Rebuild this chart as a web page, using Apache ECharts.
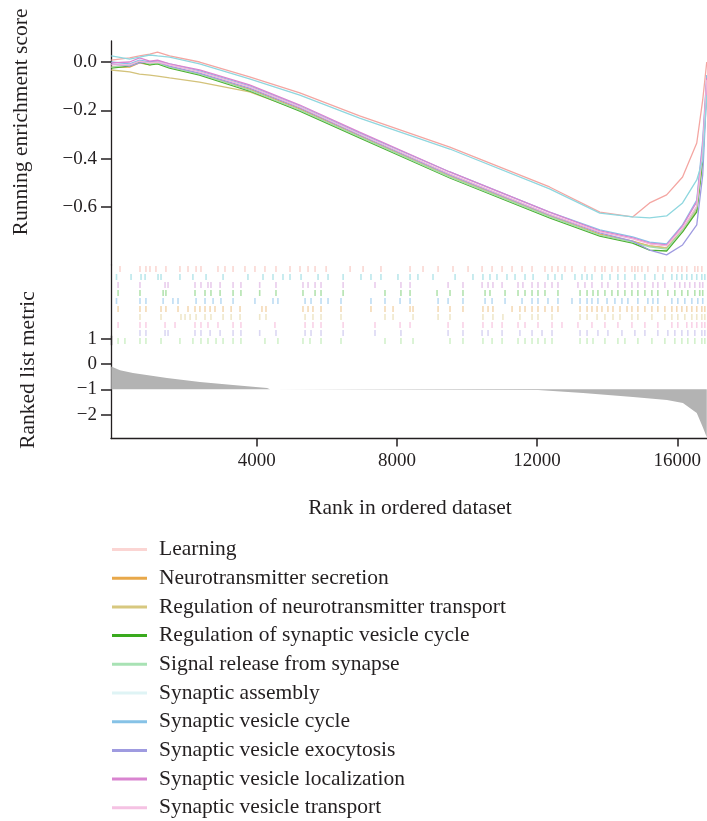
<!DOCTYPE html>
<html>
<head>
<meta charset="utf-8">
<script src="https://cdn.jsdelivr.net/npm/echarts@6/dist/echarts.min.js"></script>
<style>
  html, body { margin: 0; padding: 0; background: #fff; }
  #chart { width: 707px; height: 821px; }
</style>
</head>
<body>
<div id="chart"></div>
<script>
// gene set names (legend order)
const setNames = [
  'Learning',
  'Neurotransmitter secretion',
  'Regulation of neurotransmitter transport',
  'Regulation of synaptic vesicle cycle',
  'Signal release from synapse',
  'Synaptic assembly',
  'Synaptic vesicle cycle',
  'Synaptic vesicle exocytosis',
  'Synaptic vesicle localization',
  'Synaptic vesicle transport'
];
const legendColors = ['#fbd5d3', '#e8a84a', '#d7c87f', '#3aaa1e', '#a8e2b4', '#dff4f5', '#86c2e6', '#9f9be0', '#d984d0', '#f5c2e3'];
const lineColors = ['#f4a6a2', '#e8a84a', '#d3c27a', '#4cb030', '#a0dcac', '#8fd7df', '#86c2e6', '#9f9be0', '#d984d0', '#f3b6da'];
const hitColors = ['#f29a8e', '#e3a045', '#d6c27a', '#44b838', '#8edc7c', '#55c3cc', '#5aa8e0', '#a49ce0', '#c77fd0', '#ef8fc4'];
// row of each set in the hit strip (top = 0)
const hitRows = [0, 5, 6, 3, 9, 1, 4, 8, 2, 7];

// running enrichment score
const esRanks = [-150, 375, 655, 950, 1170, 1515, 2370, 3795, 5230, 6935, 9510, 12355, 13790, 14725, 15210, 15695, 16150, 16555, 16725, 16840];
const esLearning = [0.008, 0.017, 0.025, 0.033, 0.041, 0.025, 0.0, -0.062, -0.128, -0.223, -0.352, -0.517, -0.621, -0.641, -0.583, -0.55, -0.476, -0.335, -0.157, 0.0];
const esSecretion = [-0.021, -0.021, -0.004, -0.012, -0.004, -0.021, -0.05, -0.112, -0.194, -0.306, -0.472, -0.637, -0.712, -0.741, -0.761, -0.769, -0.695, -0.604, -0.385, -0.083];
const esRegTransport = [-0.033, -0.041, -0.05, -0.054, -0.058, -0.066, -0.083, -0.124, -0.199, -0.31, -0.472, -0.637, -0.716, -0.745, -0.761, -0.769, -0.703, -0.612, -0.405, -0.095];
const esRegCycle = [-0.025, -0.017, 0, -0.012, -0.008, -0.025, -0.054, -0.12, -0.203, -0.314, -0.48, -0.645, -0.72, -0.749, -0.778, -0.782, -0.703, -0.62, -0.405, -0.095];
const esSignal = [-0.021, -0.012, 0.004, -0.008, -0.004, -0.021, -0.05, -0.116, -0.199, -0.31, -0.476, -0.641, -0.716, -0.745, -0.765, -0.774, -0.695, -0.604, -0.372, -0.083];
const esAssembly = [0.025, 0.012, 0.02, 0.029, 0.025, 0.02, -0.008, -0.07, -0.137, -0.232, -0.36, -0.525, -0.625, -0.641, -0.645, -0.637, -0.583, -0.488, -0.405, -0.137];
const esCycle = [0, -0.008, 0.008, 0, 0.004, -0.008, -0.037, -0.099, -0.182, -0.294, -0.455, -0.621, -0.695, -0.724, -0.745, -0.753, -0.674, -0.571, -0.322, -0.054];
const esExocytosis = [-0.008, -0.017, -0.004, 0, 0, -0.017, -0.046, -0.108, -0.19, -0.302, -0.467, -0.633, -0.707, -0.741, -0.778, -0.798, -0.757, -0.674, -0.467, -0.116];
const esLocalization = [-0.004, 0, 0.017, 0.004, 0.008, -0.008, -0.033, -0.095, -0.178, -0.29, -0.455, -0.621, -0.699, -0.728, -0.749, -0.757, -0.678, -0.579, -0.343, -0.066];
const esTransport = [-0.012, -0.012, 0.004, -0.004, 0, -0.012, -0.041, -0.103, -0.186, -0.298, -0.463, -0.629, -0.703, -0.732, -0.753, -0.761, -0.687, -0.596, -0.364, -0.074];
const esValues = [esLearning, esSecretion, esRegTransport, esRegCycle, esSignal, esAssembly, esCycle, esExocytosis, esLocalization, esTransport];

// gene hit positions (rank)
const hitsLearning = [100, 670, 840, 955, 1125, 1410, 1810, 2040, 2270, 2410, 2895, 3095, 3325, 3665, 3950, 4235, 4550, 4950, 5235, 5465, 5665, 5980, 6665, 7035, 7545, 8375, 8745, 9175, 9600, 10030, 10430, 10715, 11000, 11285, 11570, 11855, 12225, 12425, 12595, 12795, 12995, 13365, 13650, 13850, 13935, 14135, 14305, 14505, 14705, 14790, 14875, 14990, 15160, 15445, 15645, 15845, 16015, 16130, 16270, 16500, 16585, 16700];
const hitsSecretion = [45, 670, 840, 1270, 1410, 1755, 2040, 2240, 2380, 2525, 2670, 2810, 3040, 3270, 3525, 4150, 4265, 5320, 5465, 5605, 5835, 6405, 7260, 7660, 7890, 8375, 8460, 9175, 9515, 9885, 10455, 10600, 10740, 11285, 11510, 11655, 11855, 12025, 12225, 12425, 12595, 13225, 13425, 13565, 13710, 13850, 14020, 14165, 14365, 14565, 14705, 14875, 15075, 15275, 15445, 15645, 15845, 15985, 16130, 16270, 16415, 16555, 16700, 16785];
const hitsRegTransport = [670, 1270, 1840, 1955, 2100, 2270, 2525, 2695, 3040, 3270, 3525, 4085, 4265, 5380, 5605, 5835, 6405, 7660, 7890, 8460, 9175, 9515, 10455, 10740, 11025, 11510, 11855, 12025, 12425, 13225, 13425, 13710, 13935, 14165, 14365, 14705, 14875, 15275, 15645, 15845, 16015, 16215, 16415, 16555, 16700, 16785];
const hitsRegCycle = [45, 670, 1330, 1410, 2240, 2525, 2695, 2955, 3325, 3550, 4085, 4550, 5320, 5665, 5835, 6465, 7660, 8115, 8375, 9145, 9515, 9885, 10515, 10655, 11085, 11455, 11655, 11855, 12025, 12225, 12595, 13225, 13425, 13595, 13735, 13935, 14135, 14305, 14505, 14705, 14875, 15075, 15275, 15445, 15730, 15930, 16130, 16300, 16500, 16640, 16725];
const hitsSignal = [45, 240, 670, 840, 1270, 1810, 2180, 2410, 2610, 2840, 3040, 3325, 3550, 4235, 4605, 5320, 5520, 5835, 6405, 7660, 8115, 8460, 9515, 9885, 10455, 10715, 11000, 11455, 11655, 11855, 12025, 12225, 12425, 13225, 13425, 13595, 13935, 14305, 14505, 14875, 15275, 15645, 15930, 16130, 16300, 16500, 16700, 16785];
const hitsAssembly = [0, 415, 700, 815, 1185, 1270, 1810, 2180, 2555, 3040, 3750, 4180, 4465, 4750, 4950, 5265, 5750, 6035, 6465, 6975, 7260, 7545, 8030, 8375, 8600, 9030, 9660, 10170, 10455, 10655, 10855, 11140, 11370, 11655, 11885, 12310, 12510, 12710, 13080, 13280, 13425, 13565, 13850, 14080, 14305, 14505, 14790, 15075, 15360, 15590, 15845, 15985, 16130, 16270, 16415, 16555, 16700, 16785];
const hitsCycle = [0, 670, 840, 1330, 1610, 1755, 2270, 2525, 2755, 2980, 3325, 3950, 4465, 4605, 5380, 5550, 5835, 6035, 6405, 7260, 7660, 8090, 8375, 9175, 9460, 9885, 10515, 10715, 11085, 11570, 11855, 12025, 12310, 12595, 12995, 13225, 13425, 13565, 13735, 13995, 14220, 14420, 14590, 14875, 15160, 15305, 15445, 15845, 16015, 16215, 16415, 16585, 16725];
const hitsExocytosis = [670, 840, 1385, 1470, 2240, 2410, 2670, 2955, 3325, 3550, 4085, 4550, 5380, 5550, 5835, 6465, 7375, 8115, 9460, 9885, 10430, 10600, 11000, 11510, 11855, 12140, 12425, 13225, 13425, 13735, 14020, 14420, 14790, 15075, 15445, 15730, 15930, 16130, 16300, 16500, 16700, 16785];
const hitsLocalization = [45, 670, 1385, 1470, 2240, 2410, 2610, 2695, 2955, 3325, 3550, 4085, 4550, 5320, 5465, 5665, 5835, 6465, 7375, 8115, 8375, 9460, 9885, 10430, 10600, 10740, 11000, 11455, 11595, 11855, 12025, 12225, 12425, 12595, 13165, 13365, 13565, 13850, 14020, 14305, 14505, 14705, 14875, 15075, 15305, 15445, 15645, 15930, 16070, 16215, 16355, 16500, 16640, 16725];
const hitsTransport = [45, 670, 840, 1385, 1670, 2240, 2410, 2610, 2895, 3325, 3550, 4520, 5380, 5605, 5835, 6465, 7375, 8090, 8375, 9460, 9885, 10455, 10715, 11000, 11455, 11655, 12025, 12425, 12710, 13165, 13565, 13935, 14305, 14705, 15075, 15445, 15845, 16015, 16270, 16415, 16555, 16700, 16785];
const hitValues = [hitsLearning, hitsSecretion, hitsRegTransport, hitsRegCycle, hitsSignal, hitsAssembly, hitsCycle, hitsExocytosis, hitsLocalization, hitsTransport];

// ranked list metric
const metricRanks = [-150, 100, 470, 1440, 2380, 3325, 4295, 4380, 12025, 13310, 14735, 15705, 16160, 16555, 16725, 16840];
const metricValues = [-0.1, -0.25, -0.36, -0.55, -0.71, -0.83, -0.95, -1.0, -1.03, -1.15, -1.3, -1.42, -1.54, -1.94, -2.49, -2.9];

// axis ticks
const xTicks = [4000, 8000, 12000, 16000];
const esTicks = [0, -0.2, -0.4, -0.6];
const metricTicks = [1, 0, -1, -2];

const FONT = '"Liberation Serif", "DejaVu Serif", serif';
const INK = '#231f20';
const minus = (s) => s.replace('-', '\u2212');

const chart = echarts.init(document.getElementById('chart'));

const series = [];
setNames.forEach((name, i) => {
  series.push({
    name: name,
    type: 'line',
    xAxisIndex: 0,
    yAxisIndex: 0,
    showSymbol: false,
    silent: true,
    color: lineColors[i],
    lineStyle: { width: 1.3, color: lineColors[i] },
    z: (i === 0 || i === 5) ? 4 : 3,
    data: esRanks.map((r, k) => [r, esValues[i][k]])
  });
});
setNames.forEach((name, i) => {
  series.push({
    name: 'hits ' + name,
    type: 'scatter',
    xAxisIndex: 1,
    yAxisIndex: 1,
    silent: true,
    symbol: 'rect',
    symbolSize: [1.6, 6],
    itemStyle: { color: hitColors[i], opacity: 0.4 },
    data: hitValues[i].map(r => [r, hitRows[i] + 0.5])
  });
});
series.push({
  name: 'metric',
  type: 'line',
  xAxisIndex: 2,
  yAxisIndex: 2,
  showSymbol: false,
  silent: true,
  lineStyle: { opacity: 0 },
  areaStyle: { origin: -1, color: '#b3b3b3', opacity: 1 },
  data: metricRanks.map((r, k) => [r, metricValues[k]])
});

const axisLine = { show: true, onZero: false, lineStyle: { color: INK, width: 1.3 } };
const hiddenX = (g) => ({ type: 'value', gridIndex: g, min: -157, max: 16847, show: false });

const option = {
  animation: false,
  backgroundColor: '#fff',
  grid: [
    { left: 111, right: 0, top: 41, height: 224 },
    { left: 111, right: 0, top: 265, height: 80 },
    { left: 111, right: 0, top: 336, height: 102.5 }
  ],
  xAxis: [
    hiddenX(0),
    hiddenX(1),
    {
      type: 'value', gridIndex: 2, min: -157, max: 16847,
      axisLine: axisLine,
      axisTick: { show: true, customValues: xTicks, length: 8, lineStyle: { color: INK, width: 1.5 } },
      axisLabel: { customValues: xTicks, fontFamily: FONT, fontSize: 19, color: INK, margin: 13,
        formatter: v => String(v) },
      splitLine: { show: false }
    }
  ],
  yAxis: [
    {
      type: 'value', gridIndex: 0, min: -0.8399, max: 0.0869,
      axisLine: axisLine,
      axisTick: { show: true, customValues: esTicks, length: 10, lineStyle: { color: INK, width: 1.5 } },
      axisLabel: { customValues: esTicks, fontFamily: FONT, fontSize: 19, color: INK, margin: 14,
        formatter: v => minus(v.toFixed(1)) },
      splitLine: { show: false }
    },
    {
      type: 'value', gridIndex: 1, min: 0, max: 10, inverse: true,
      axisLine: axisLine,
      axisTick: { show: false },
      axisLabel: { show: false },
      splitLine: { show: false }
    },
    {
      type: 'value', gridIndex: 2, min: -2.945, max: 1.107,
      axisLine: axisLine,
      axisTick: { show: true, customValues: metricTicks, length: 10, lineStyle: { color: INK, width: 1.5 } },
      axisLabel: { customValues: metricTicks, fontFamily: FONT, fontSize: 19, color: INK, margin: 14,
        formatter: v => minus(String(v)) },
      splitLine: { show: false }
    }
  ],
  legend: {
    orient: 'vertical',
    left: 107,
    top: 533.5,
    height: 300,
    icon: 'rect',
    itemWidth: 35,
    itemHeight: 3,
    itemGap: 6.7,
    selectedMode: false,
    textStyle: { fontFamily: FONT, fontSize: 21.5, color: INK, lineHeight: 21, padding: [0, 0, 0, 7] },
    data: setNames.map((n, i) => ({ name: n, itemStyle: { color: legendColors[i] } }))
  },
  graphic: [
    { type: 'text', x: 21, y: 122, rotation: Math.PI / 2,
      style: { text: 'Running enrichment score', font: '21.5px ' + FONT, fill: INK, align: 'center', verticalAlign: 'middle' } },
    { type: 'text', x: 28, y: 370, rotation: Math.PI / 2,
      style: { text: 'Ranked list metric', font: '21.5px ' + FONT, fill: INK, align: 'center', verticalAlign: 'middle' } },
    { type: 'text', x: 410, y: 508,
      style: { text: 'Rank in ordered dataset', font: '21.5px ' + FONT, fill: INK, align: 'center', verticalAlign: 'middle' } }
  ],
  series: series
};

chart.setOption(option);
window.addEventListener('resize', () => chart.resize());
</script>
</body>
</html>
